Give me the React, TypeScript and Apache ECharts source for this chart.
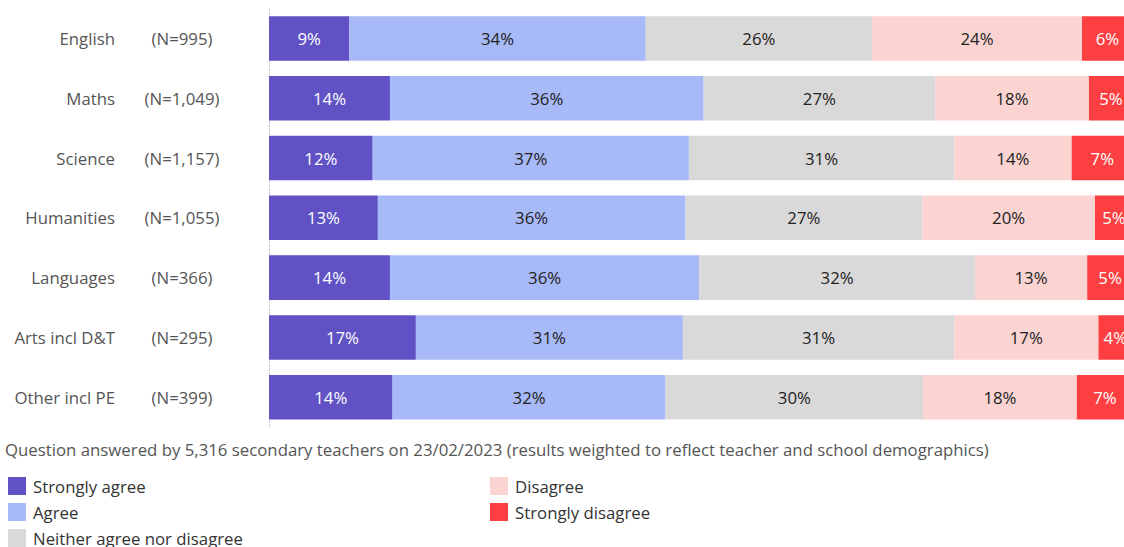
import React, { useEffect, useRef } from "react";
import * as echarts from "echarts";

const categories = ["English", "Maths", "Science", "Humanities", "Languages", "Arts incl D&T", "Other incl PE"];
const sampleSizes = ["(N=995)", "(N=1,049)", "(N=1,157)", "(N=1,055)", "(N=366)", "(N=295)", "(N=399)"];
const seriesNames = ["Strongly agree", "Agree", "Neither agree nor disagree", "Disagree", "Strongly disagree"];
const stronglyAgree = [9.3, 14.0, 12.0, 12.6, 14.0, 17.0, 14.3];
const agree = [34.3, 36.3, 36.6, 35.6, 35.8, 30.9, 31.6];
const neither = [26.2, 26.8, 30.7, 27.4, 31.9, 31.4, 29.8];
const disagree = [24.3, 17.8, 13.6, 20.0, 13.0, 16.7, 17.8];
const stronglyDisagree = [5.9, 5.2, 7.2, 4.5, 5.3, 3.9, 6.6];
const footnote =
  "Question answered by 5,316 secondary teachers on 23/02/2023 (results weighted to reflect teacher and school demographics)";

const colors = ["#6052c4", "#a7b9f7", "#d9d9d9", "#fbd4d2", "#fd3f42"];
const labelColors = ["#ffffff", "#222222", "#222222", "#222222", "#ffffff"];
const FONT = "Open Sans";
const FS = 16.8;

export default function App() {
  const ref = useRef<HTMLDivElement>(null);
  useEffect(() => {
    if (!ref.current) return;
    const chart = echarts.init(ref.current, undefined, { renderer: "svg" });
    const values = [stronglyAgree, agree, neither, disagree, stronglyDisagree];
    const legendBase = {
      orient: "vertical",
      top: 477,
      itemWidth: 18,
      itemHeight: 18,
      itemGap: 8,
      icon: "rect",
      padding: 0,
      textStyle: { fontSize: FS, color: "#333333", fontFamily: FONT, padding: [0, 0, 0, 2] },
    };
    chart.setOption({
      animation: false,
      textStyle: { fontFamily: FONT },
      grid: { left: 269, top: 8.6, right: 27, height: 418.5 },
      xAxis: { type: "value", min: 0, max: 100, show: false },
      yAxis: [
        {
          type: "category",
          inverse: true,
          data: categories,
          axisTick: { show: false },
          axisLine: { show: true, lineStyle: { color: "#c8c8c8", type: [2, 2], width: 1 } },
          axisLabel: { margin: 154, align: "right", fontSize: FS, color: "#555555", fontFamily: FONT },
        },
        {
          type: "category",
          inverse: true,
          position: "left",
          data: sampleSizes,
          axisTick: { show: false },
          axisLine: { show: false },
          axisLabel: { margin: 87, align: "center", fontSize: FS, color: "#555555", fontFamily: FONT },
        },
      ],
      legend: [
        { ...legendBase, data: seriesNames.slice(0, 3), left: 8 },
        { ...legendBase, data: seriesNames.slice(3), left: 490 },
      ],
      graphic: [
        {
          type: "text",
          left: 5,
          top: 441,
          style: { text: footnote, fontSize: FS, fill: "#555555", fontFamily: FONT },
        },
      ],
      series: seriesNames.map((name, k) => ({
        name,
        type: "bar",
        stack: "total",
        barCategoryGap: "25.5%",
        data: values[k],
        itemStyle: { color: colors[k] },
        label: {
          show: true,
          position: "inside",
          formatter: (p: any) => `${Math.round(p.value)}%`,
          color: labelColors[k],
          fontSize: FS,
          fontFamily: FONT,
        },
      })),
    });
    return () => chart.dispose();
  }, []);
  return (
    <div style={{ position: "fixed", left: 0, top: 0, width: 1124, height: 547, overflow: "hidden", background: "#fff" }}>
      <div ref={ref} style={{ width: 1160, height: 547 }} />
    </div>
  );
}
